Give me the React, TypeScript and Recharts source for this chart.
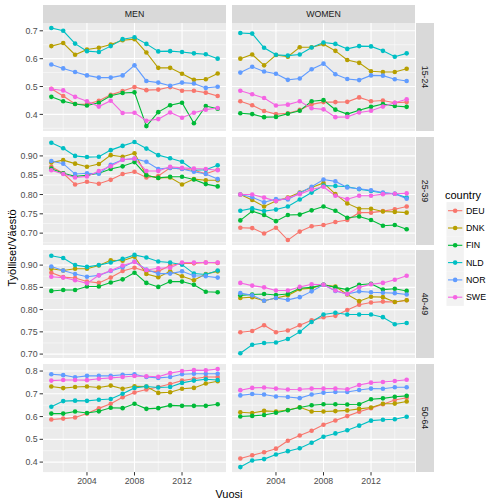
import { LineChart, Line, XAxis, YAxis, CartesianGrid } from 'recharts';

const years = [2001, 2002, 2003, 2004, 2005, 2006, 2007, 2008, 2009, 2010, 2011, 2012, 2013, 2014, 2015];
const countries = ['DEU', 'DNK', 'FIN', 'NLD', 'NOR', 'SWE'];
const colors = ['#F8766D', '#B79F00', '#00BA38', '#00BFC4', '#619CFF', '#F564E3'];
const sexes = ['MEN', 'WOMEN'];
const ageGroups = ['15-24', '25-39', '40-49', '50-64'];

const majorYears = [2004, 2008, 2012];
const minorYears = [2002, 2006, 2010, 2014];

const men1524: Record<string, number[]> = {
  DEU: [0.492, 0.466, 0.437, 0.436, 0.449, 0.470, 0.484, 0.498, 0.487, 0.489, 0.498, 0.485, 0.485, 0.478, 0.466],
  DNK: [0.645, 0.656, 0.614, 0.633, 0.639, 0.651, 0.666, 0.670, 0.622, 0.567, 0.567, 0.546, 0.524, 0.526, 0.547],
  FIN: [0.463, 0.447, 0.437, 0.432, 0.442, 0.467, 0.477, 0.479, 0.358, 0.408, 0.433, 0.442, 0.368, 0.430, 0.420],
  NLD: [0.710, 0.700, 0.654, 0.627, 0.624, 0.645, 0.670, 0.677, 0.653, 0.626, 0.627, 0.624, 0.619, 0.616, 0.600],
  NOR: [0.579, 0.565, 0.552, 0.540, 0.532, 0.532, 0.540, 0.576, 0.520, 0.514, 0.503, 0.514, 0.511, 0.495, 0.499],
  SWE: [0.491, 0.486, 0.463, 0.447, 0.428, 0.449, 0.405, 0.406, 0.377, 0.383, 0.407, 0.388, 0.406, 0.417, 0.423],
};
const women1524: Record<string, number[]> = {
  DEU: [0.447, 0.433, 0.412, 0.401, 0.404, 0.416, 0.436, 0.444, 0.444, 0.445, 0.461, 0.447, 0.450, 0.442, 0.444],
  DNK: [0.600, 0.615, 0.576, 0.613, 0.607, 0.641, 0.641, 0.652, 0.628, 0.595, 0.585, 0.555, 0.552, 0.552, 0.564],
  FIN: [0.404, 0.401, 0.390, 0.391, 0.402, 0.413, 0.447, 0.451, 0.417, 0.401, 0.415, 0.427, 0.437, 0.430, 0.427],
  NLD: [0.692, 0.690, 0.639, 0.614, 0.611, 0.615, 0.640, 0.658, 0.653, 0.635, 0.645, 0.644, 0.628, 0.607, 0.619],
  NOR: [0.550, 0.571, 0.554, 0.546, 0.524, 0.529, 0.562, 0.582, 0.544, 0.527, 0.523, 0.540, 0.539, 0.526, 0.520],
  SWE: [0.485, 0.472, 0.459, 0.432, 0.435, 0.447, 0.422, 0.418, 0.390, 0.391, 0.407, 0.413, 0.428, 0.442, 0.454],
};
const men2539: Record<string, number[]> = {
  DEU: [0.872, 0.855, 0.826, 0.833, 0.828, 0.838, 0.853, 0.859, 0.844, 0.848, 0.869, 0.866, 0.863, 0.854, 0.864],
  DNK: [0.883, 0.889, 0.880, 0.872, 0.879, 0.902, 0.898, 0.907, 0.850, 0.843, 0.844, 0.826, 0.840, 0.837, 0.837],
  FIN: [0.867, 0.855, 0.847, 0.850, 0.855, 0.866, 0.873, 0.884, 0.850, 0.843, 0.846, 0.846, 0.839, 0.827, 0.821],
  NLD: [0.934, 0.920, 0.900, 0.897, 0.898, 0.915, 0.926, 0.936, 0.919, 0.902, 0.894, 0.885, 0.863, 0.864, 0.876],
  NOR: [0.887, 0.880, 0.853, 0.855, 0.854, 0.877, 0.890, 0.893, 0.885, 0.866, 0.869, 0.866, 0.859, 0.853, 0.840],
  SWE: [0.863, 0.853, 0.844, 0.847, 0.861, 0.873, 0.890, 0.893, 0.861, 0.861, 0.872, 0.869, 0.867, 0.866, 0.863],
};
const women2539: Record<string, number[]> = {
  DEU: [0.714, 0.713, 0.699, 0.714, 0.682, 0.704, 0.718, 0.721, 0.729, 0.734, 0.753, 0.753, 0.757, 0.762, 0.769],
  DNK: [0.800, 0.786, 0.769, 0.783, 0.792, 0.805, 0.818, 0.830, 0.801, 0.777, 0.763, 0.763, 0.756, 0.755, 0.753],
  FIN: [0.733, 0.757, 0.747, 0.731, 0.747, 0.748, 0.759, 0.769, 0.758, 0.740, 0.743, 0.734, 0.719, 0.721, 0.710],
  NLD: [0.758, 0.764, 0.757, 0.761, 0.769, 0.787, 0.805, 0.823, 0.822, 0.820, 0.814, 0.809, 0.804, 0.802, 0.792],
  NOR: [0.800, 0.793, 0.780, 0.788, 0.787, 0.804, 0.820, 0.839, 0.834, 0.818, 0.815, 0.811, 0.805, 0.802, 0.789],
  SWE: [0.800, 0.800, 0.792, 0.783, 0.791, 0.801, 0.813, 0.820, 0.797, 0.788, 0.797, 0.797, 0.801, 0.802, 0.803],
};
const men4049: Record<string, number[]> = {
  DEU: [0.883, 0.873, 0.871, 0.863, 0.860, 0.872, 0.887, 0.894, 0.886, 0.886, 0.899, 0.904, 0.904, 0.906, 0.905],
  DNK: [0.892, 0.888, 0.892, 0.892, 0.899, 0.911, 0.910, 0.919, 0.880, 0.873, 0.886, 0.875, 0.866, 0.880, 0.886],
  FIN: [0.842, 0.844, 0.844, 0.852, 0.852, 0.861, 0.868, 0.883, 0.860, 0.851, 0.863, 0.863, 0.856, 0.840, 0.839],
  NLD: [0.921, 0.916, 0.900, 0.896, 0.900, 0.906, 0.914, 0.923, 0.917, 0.908, 0.906, 0.901, 0.881, 0.879, 0.888],
  NOR: [0.897, 0.888, 0.880, 0.874, 0.877, 0.887, 0.895, 0.908, 0.890, 0.881, 0.881, 0.886, 0.876, 0.875, 0.872],
  SWE: [0.874, 0.872, 0.866, 0.859, 0.877, 0.888, 0.899, 0.907, 0.889, 0.893, 0.894, 0.906, 0.906, 0.906, 0.906],
};
const women4049: Record<string, number[]> = {
  DEU: [0.749, 0.752, 0.765, 0.749, 0.753, 0.765, 0.776, 0.783, 0.786, 0.799, 0.811, 0.816, 0.818, 0.817, 0.821],
  DNK: [0.826, 0.828, 0.820, 0.826, 0.832, 0.846, 0.848, 0.856, 0.852, 0.834, 0.819, 0.829, 0.828, 0.817, 0.821],
  FIN: [0.832, 0.834, 0.835, 0.833, 0.835, 0.848, 0.850, 0.856, 0.850, 0.845, 0.856, 0.858, 0.845, 0.847, 0.842],
  NLD: [0.702, 0.721, 0.725, 0.726, 0.734, 0.750, 0.772, 0.789, 0.793, 0.789, 0.789, 0.789, 0.783, 0.767, 0.770],
  NOR: [0.837, 0.832, 0.820, 0.826, 0.822, 0.828, 0.841, 0.856, 0.842, 0.835, 0.841, 0.839, 0.838, 0.837, 0.834],
  SWE: [0.860, 0.854, 0.850, 0.843, 0.843, 0.851, 0.857, 0.856, 0.843, 0.835, 0.850, 0.857, 0.860, 0.867, 0.876],
};
const men5064: Record<string, number[]> = {
  DEU: [0.587, 0.591, 0.596, 0.613, 0.636, 0.656, 0.685, 0.706, 0.719, 0.730, 0.743, 0.758, 0.766, 0.774, 0.774],
  DNK: [0.732, 0.725, 0.730, 0.732, 0.728, 0.736, 0.722, 0.733, 0.732, 0.704, 0.707, 0.722, 0.726, 0.745, 0.755],
  FIN: [0.613, 0.613, 0.622, 0.616, 0.623, 0.639, 0.637, 0.656, 0.634, 0.637, 0.649, 0.647, 0.647, 0.647, 0.654],
  NLD: [0.643, 0.668, 0.670, 0.669, 0.674, 0.677, 0.700, 0.726, 0.732, 0.728, 0.730, 0.748, 0.758, 0.764, 0.761],
  NOR: [0.786, 0.782, 0.773, 0.779, 0.779, 0.779, 0.784, 0.786, 0.774, 0.770, 0.774, 0.786, 0.788, 0.788, 0.788],
  SWE: [0.758, 0.761, 0.761, 0.760, 0.766, 0.770, 0.774, 0.778, 0.777, 0.775, 0.791, 0.800, 0.804, 0.803, 0.809],
};
const women5064: Record<string, number[]> = {
  DEU: [0.416, 0.430, 0.443, 0.459, 0.494, 0.517, 0.538, 0.564, 0.583, 0.602, 0.621, 0.637, 0.654, 0.673, 0.683],
  DNK: [0.619, 0.616, 0.625, 0.622, 0.629, 0.641, 0.622, 0.622, 0.624, 0.627, 0.634, 0.640, 0.656, 0.657, 0.666],
  FIN: [0.600, 0.603, 0.607, 0.617, 0.628, 0.640, 0.650, 0.654, 0.654, 0.653, 0.654, 0.676, 0.680, 0.687, 0.691],
  NLD: [0.378, 0.407, 0.413, 0.433, 0.448, 0.461, 0.485, 0.511, 0.526, 0.540, 0.560, 0.582, 0.586, 0.588, 0.599],
  NOR: [0.693, 0.699, 0.697, 0.688, 0.686, 0.681, 0.697, 0.705, 0.708, 0.708, 0.717, 0.723, 0.722, 0.729, 0.729],
  SWE: [0.716, 0.726, 0.728, 0.723, 0.719, 0.720, 0.723, 0.723, 0.723, 0.720, 0.739, 0.749, 0.752, 0.756, 0.762],
};

// row scales (free y per age group)
const rowDomains = [[0.34, 0.728], [0.669, 0.949], [0.691, 0.934], [0.356, 0.831]];
const rowMajor = [[0.4, 0.5, 0.6, 0.7], [0.7, 0.75, 0.8, 0.85, 0.9], [0.7, 0.75, 0.8, 0.85, 0.9], [0.4, 0.5, 0.6, 0.7, 0.8]];
const rowMinor = [[0.35, 0.45, 0.55, 0.65], [0.675, 0.725, 0.775, 0.825, 0.875, 0.925], [0.725, 0.775, 0.825, 0.875, 0.925], [0.45, 0.55, 0.65, 0.75]];
const rowDigits = [1, 2, 2, 1];

const panels = [
  [men1524, women1524],
  [men2539, women2539],
  [men4049, women4049],
  [men5064, women5064],
];

const FONT = '"Liberation Sans", Arial, Helvetica, sans-serif';
const PANEL_W = 183;
const PANEL_H = 108.1;
const COL_X = [43, 232];
const ROW_Y = [22.7, 136.5, 250.3, 364.1];
const STRIP = '#D9D9D9';

function Panel({ series, col, row }: { series: Record<string, number[]>; col: number; row: number }) {
  const isLeft = col === 0;
  const isBottom = row === 3;
  const yW = isLeft ? 43 : 0;
  const xH = isBottom ? 22 : 0;
  const table = years.map((yr, i) => {
    const o: Record<string, number> = { year: yr };
    countries.forEach((c) => (o[c] = series[c][i]));
    return o;
  });
  return (
    <div style={{ position: 'absolute', left: COL_X[col] - yW, top: ROW_Y[row] }}>
      <LineChart width={PANEL_W + yW} height={PANEL_H + xH} data={table} margin={{ top: 0, right: 0, bottom: 0, left: 0 }}>
        <CartesianGrid fill="#EBEBEB" stroke="#FFFFFF" strokeWidth={0.5} horizontalValues={rowMinor[row]} verticalValues={minorYears} />
        <CartesianGrid stroke="#FFFFFF" strokeWidth={1.1} horizontalValues={rowMajor[row]} verticalValues={majorYears} />
        <XAxis
          dataKey="year"
          type="number"
          domain={[2000.3, 2015.7]}
          ticks={majorYears}
          interval={0}
          hide={!isBottom}
          height={xH}
          axisLine={false}
          tickLine={{ stroke: '#333333' }}
          tickSize={3.4}
          tickMargin={2}
          tick={{ fill: '#4D4D4D', fontSize: 8.8 }}
        />
        <YAxis
          type="number"
          domain={rowDomains[row]}
          ticks={rowMajor[row]}
          interval={0}
          allowDataOverflow
          hide={!isLeft}
          width={yW}
          axisLine={false}
          tickLine={{ stroke: '#333333' }}
          tickSize={3.4}
          tickMargin={2}
          tick={{ fill: '#4D4D4D', fontSize: 8.8 }}
          tickFormatter={(v: number) => v.toFixed(rowDigits[row])}
        />
        {countries.map((c, i) => (
          <Line
            key={c}
            dataKey={c}
            type="linear"
            stroke={colors[i]}
            strokeWidth={1.1}
            dot={{ r: 2.3, fill: colors[i], stroke: colors[i], strokeWidth: 0 }}
            activeDot={false}
            isAnimationActive={false}
          />
        ))}
      </LineChart>
    </div>
  );
}

export default function App() {
  return (
    <div style={{ position: 'absolute', left: 0, top: 0, width: 504, height: 504, background: '#fff', fontFamily: FONT }}>
      {panels.map((pair, r) => pair.map((s, c) => <Panel key={`${r}-${c}`} series={s} col={c} row={r} />))}

      {sexes.map((s, c) => (
        <div
          key={s}
          style={{
            position: 'absolute', left: COL_X[c], top: 5, width: PANEL_W, height: 17.7, background: STRIP,
            display: 'flex', alignItems: 'center', justifyContent: 'center', fontSize: 8.8, color: '#1A1A1A',
          }}
        >
          {s}
        </div>
      ))}

      {ageGroups.map((a, r) => (
        <div
          key={a}
          style={{
            position: 'absolute', left: 416, top: ROW_Y[r], width: 17.5, height: PANEL_H, background: STRIP,
            display: 'flex', alignItems: 'center', justifyContent: 'center',
          }}
        >
          <div style={{ transform: 'rotate(90deg)', whiteSpace: 'nowrap', fontSize: 8.8, color: '#1A1A1A' }}>{a}</div>
        </div>
      ))}

      <div
        style={{
          position: 'absolute', left: 12, top: 247.5, transform: 'translate(-50%, -50%) rotate(-90deg)',
          whiteSpace: 'nowrap', fontSize: 11, color: '#000',
        }}
      >
        Työlliset/Väestö
      </div>
      <div style={{ position: 'absolute', left: 229, top: 494, transform: 'translate(-50%, -50%)', fontSize: 11, color: '#000' }}>
        Vuosi
      </div>

      <svg style={{ position: 'absolute', left: 440, top: 185 }} width={64} height={125}>
        <text x={5} y={14} fontSize={11} fill="#000" fontFamily={FONT}>country</text>
        {countries.map((c, i) => {
          const cy = 25.7 + i * 17.3;
          return (
            <g key={c}>
              <rect x={6.5} y={cy - 8.6} width={17.3} height={17.3} fill="#F2F2F2" />
              <line x1={8} x2={22.3} y1={cy} y2={cy} stroke={colors[i]} strokeWidth={1.1} />
              <circle cx={15.15} cy={cy} r={2.3} fill={colors[i]} />
              <text x={26} y={cy + 3.1} fontSize={8.8} fill="#000" fontFamily={FONT}>{c}</text>
            </g>
          );
        })}
      </svg>
    </div>
  );
}
